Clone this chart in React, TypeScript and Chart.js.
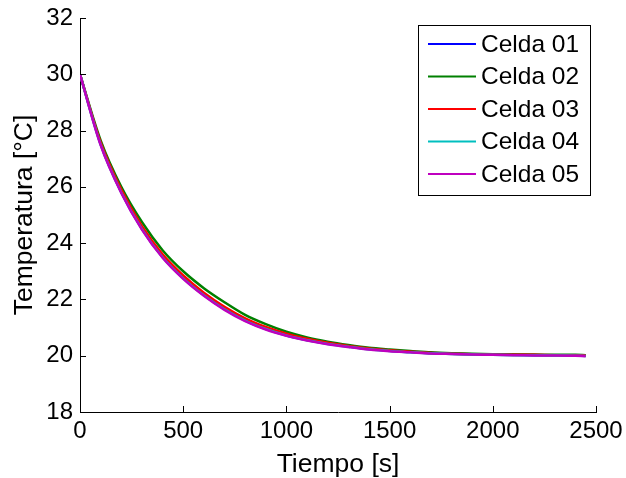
import React, { useEffect, useRef } from "react";
import { Chart, registerables } from "chart.js";

Chart.register(...registerables);

const times = [0, 100, 200, 300, 400, 500, 600, 700, 800, 900, 1000, 1100, 1200, 1300, 1400, 1500, 1600, 1700, 1800, 1900, 2000, 2100, 2200, 2300, 2400, 2450];

const celda01 = [30.0, 27.52, 25.82, 24.52, 23.52, 22.77, 22.16, 21.66, 21.26, 20.96, 20.73, 20.56, 20.43, 20.33, 20.24, 20.18, 20.13, 20.09, 20.07, 20.05, 20.04, 20.03, 20.02, 20.02, 20.01, 20.0];
const celda02 = [30.0, 27.65, 26.0, 24.75, 23.75, 23.0, 22.4, 21.9, 21.45, 21.12, 20.85, 20.65, 20.5, 20.38, 20.28, 20.22, 20.17, 20.12, 20.09, 20.07, 20.05, 20.04, 20.04, 20.03, 20.03, 20.02];
const celda03 = [30.0, 27.58, 25.9, 24.6, 23.6, 22.85, 22.24, 21.74, 21.33, 21.02, 20.78, 20.6, 20.46, 20.35, 20.26, 20.19, 20.14, 20.1, 20.07, 20.05, 20.04, 20.03, 20.03, 20.02, 20.02, 20.01];
const celda04 = [30.0, 27.5, 25.8, 24.5, 23.5, 22.75, 22.15, 21.65, 21.25, 20.95, 20.72, 20.55, 20.42, 20.32, 20.23, 20.17, 20.12, 20.09, 20.06, 20.04, 20.03, 20.02, 20.02, 20.01, 20.0, 19.99];
const celda05 = [30.0, 27.48, 25.78, 24.48, 23.48, 22.73, 22.13, 21.63, 21.23, 20.93, 20.71, 20.54, 20.41, 20.31, 20.22, 20.16, 20.12, 20.08, 20.06, 20.04, 20.03, 20.02, 20.01, 20.01, 20.0, 19.98];

const seriesNames = ["Celda 01", "Celda 02", "Celda 03", "Celda 04", "Celda 05"];
const seriesValues = [celda01, celda02, celda03, celda04, celda05];
const seriesColors = ["#0000ff", "#008000", "#ff0000", "#00bfbf", "#bf00bf"];

const yTicks = [18, 20, 22, 24, 26, 28, 30, 32];
const xTicks = [0, 500, 1000, 1500, 2000, 2500];

const FONT = "'Liberation Sans', Arial, Helvetica, sans-serif";

const innerTicksPlugin = {
  id: "innerTicks",
  afterDraw(chart: any) {
    const ctx = chart.ctx;
    const xs = chart.scales.x;
    const ys = chart.scales.y;
    const area = chart.chartArea;
    ctx.save();
    ctx.strokeStyle = "#000";
    ctx.lineWidth = 1;
    ctx.beginPath();
    xTicks.forEach((v) => {
      const px = Math.round(xs.getPixelForValue(v)) + 0.5;
      ctx.moveTo(px, area.bottom);
      ctx.lineTo(px, area.bottom - 6);
    });
    yTicks.forEach((v) => {
      const py = Math.round(ys.getPixelForValue(v)) + 0.5;
      ctx.moveTo(area.left, py);
      ctx.lineTo(area.left + 6, py);
    });
    ctx.stroke();
    ctx.restore();
  },
};

const boxLegendPlugin = {
  id: "boxLegend",
  afterDraw(chart: any) {
    const ctx = chart.ctx;
    const area = chart.chartArea;
    const w = 172;
    const h = 170;
    const left = area.right - 6 - w;
    const top = area.top + 7;
    ctx.save();
    ctx.fillStyle = "#fff";
    ctx.fillRect(left, top, w, h);
    ctx.strokeStyle = "#000";
    ctx.lineWidth = 1;
    ctx.strokeRect(Math.round(left) + 0.5, Math.round(top) + 0.5, w, h);
    ctx.font = `24.5px ${FONT}`;
    ctx.textBaseline = "middle";
    ctx.textAlign = "left";
    chart.data.datasets.forEach((ds: any, i: number) => {
      const y = top + 19 + i * 32.5;
      ctx.strokeStyle = ds.borderColor;
      ctx.lineWidth = 2;
      ctx.beginPath();
      ctx.moveTo(left + 10, y);
      ctx.lineTo(left + 58, y);
      ctx.stroke();
      ctx.fillStyle = "#000";
      ctx.fillText(ds.label, left + 63, y + 1);
    });
    ctx.restore();
  },
};

export default function App() {
  const canvasRef = useRef<HTMLCanvasElement | null>(null);

  useEffect(() => {
    const canvas = canvasRef.current;
    if (!canvas) return;
    const datasets = seriesNames.map((name, i) => ({
      label: name,
      data: times.map((t, j) => ({ x: t, y: seriesValues[i][j] })),
      borderColor: seriesColors[i],
      backgroundColor: seriesColors[i],
      borderWidth: 2.5,
      pointRadius: 0,
      tension: 0.3,
      fill: false,
      order: seriesNames.length - i,
    }));
    const chart = new Chart(canvas, {
      type: "line",
      data: { datasets },
      plugins: [innerTicksPlugin, boxLegendPlugin],
      options: {
        responsive: false,
        animation: false,
        layout: { padding: { left: 0, right: 30, top: 18, bottom: 0 } },
        plugins: {
          legend: { display: false },
          tooltip: { enabled: false },
        },
        scales: {
          x: {
            type: "linear",
            min: 0,
            max: 2500,
            afterFit: (scale: any) => {
              scale.height = 66;
              scale.paddingLeft = 0;
              scale.paddingRight = 0;
            },
            afterBuildTicks: (scale: any) => {
              scale.ticks = xTicks.map((v) => ({ value: v }));
            },
            grid: { display: true, drawOnChartArea: false, drawTicks: false },
            border: { display: true, color: "#000", width: 1 },
            ticks: {
              color: "#000",
              padding: 7,
              maxRotation: 0,
              callback: (v: any) => String(v),
              font: { family: FONT, size: 24, lineHeight: 1 },
            },
            title: {
              display: true,
              text: "Tiempo [s]",
              color: "#000",
              padding: { top: 0, bottom: 0 },
              font: { family: FONT, size: 26.5, lineHeight: 1 },
            },
          },
          y: {
            type: "linear",
            min: 18,
            max: 32,
            afterFit: (scale: any) => {
              scale.width = 80;
              scale.paddingTop = 0;
              scale.paddingBottom = 0;
            },
            afterBuildTicks: (scale: any) => {
              scale.ticks = yTicks.map((v) => ({ value: v }));
            },
            grid: { display: true, drawOnChartArea: false, drawTicks: false },
            border: { display: true, color: "#000", width: 1 },
            ticks: {
              color: "#000",
              padding: 7,
              callback: (v: any) => String(v),
              font: { family: FONT, size: 24, lineHeight: 1 },
            },
            title: {
              display: true,
              text: "Temperatura [°C]",
              color: "#000",
              padding: { top: 9, bottom: 0 },
              font: { family: FONT, size: 26.5 },
            },
          },
        },
      },
    } as any);
    return () => chart.destroy();
  }, []);

  return (
    <div style={{ position: "absolute", left: 0, top: 0, width: 626, height: 478, background: "#fff" }}>
      <canvas ref={canvasRef} width={626} height={478} style={{ display: "block", width: 626, height: 478 }} />
    </div>
  );
}
